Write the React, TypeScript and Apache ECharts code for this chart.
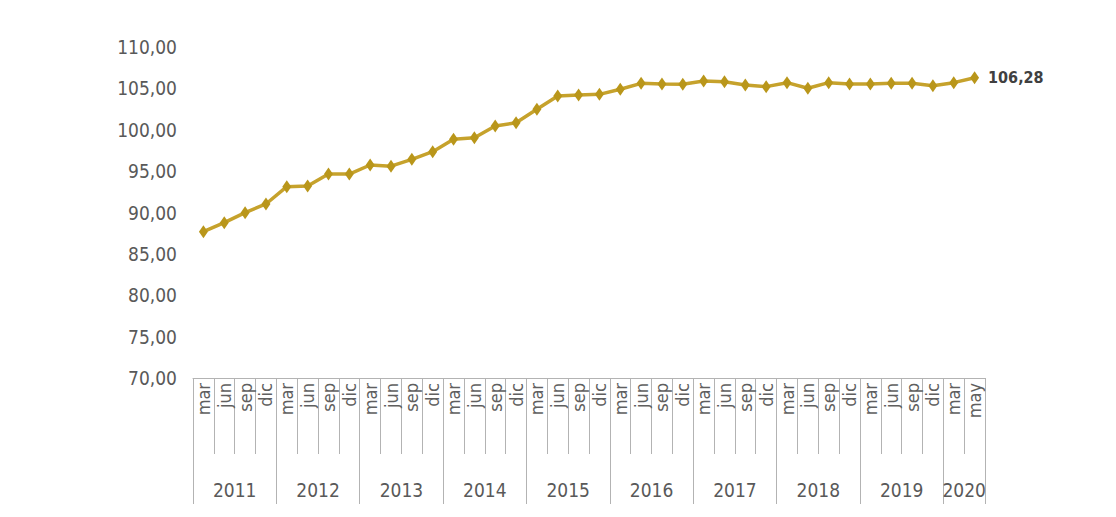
import React, { useEffect, useRef } from "react";
import * as echarts from "echarts";

const monthLabels = [
  "mar", "jun", "sep", "dic", "mar", "jun", "sep", "dic", "mar", "jun", "sep", "dic",
  "mar", "jun", "sep", "dic", "mar", "jun", "sep", "dic", "mar", "jun", "sep", "dic",
  "mar", "jun", "sep", "dic", "mar", "jun", "sep", "dic", "mar", "jun", "sep", "dic",
  "mar", "may",
];
const yearLabels = ["2011", "2012", "2013", "2014", "2015", "2016", "2017", "2018", "2019", "2020"];
const yearSpans = [4, 4, 4, 4, 4, 4, 4, 4, 4, 2];
const values = [
  87.68, 88.77, 89.98, 91.03, 93.12, 93.2, 94.65, 94.65, 95.74, 95.6, 96.43, 97.35,
  98.85, 99.04, 100.45, 100.85, 102.47, 104.08, 104.2, 104.28, 104.89, 105.61, 105.53, 105.49,
  105.89, 105.81, 105.41, 105.21, 105.69, 105.01, 105.69, 105.53, 105.53, 105.61, 105.61, 105.32,
  105.69, 106.28,
];
const yTicks = { min: 70, max: 110, interval: 5 };

const NARROW = "'Liberation Sans Narrow', 'DejaVu Sans Condensed', sans-serif";

export default function App() {
  const ref = useRef<HTMLDivElement>(null);
  useEffect(() => {
    document.body.style.margin = "0";
    if (!ref.current) return;
    const chart = echarts.init(ref.current, undefined, { renderer: "svg" });

    const boundaries: number[] = [0];
    const mids: number[] = [];
    let acc = 0;
    yearSpans.forEach((s) => {
      mids.push(acc + s / 2);
      acc += s;
      boundaries.push(acc);
    });
    const total = acc;

    const lastIdx = values.length - 1;
    const fmt = (v: number) => v.toFixed(2).replace(".", ",");

    chart.setOption({
      animation: false,
      backgroundColor: "#ffffff",
      grid: { left: 193, right: 131, top: 47, bottom: 139, containLabel: false },
      xAxis: [
        {
          type: "category",
          data: monthLabels,
          position: "bottom",
          boundaryGap: true,
          axisLine: { show: true, lineStyle: { color: "#b3b3b3", width: 1 } },
          axisTick: {
            show: true,
            interval: 0,
            alignWithLabel: false,
            length: 76,
            lineStyle: { color: "#b3b3b3", width: 1 },
          },
          axisLabel: {
            interval: 0,
            rotate: 90,
            margin: 5,
            color: "#5f5f5f",
            fontSize: 18,
            fontFamily: NARROW,
          },
          splitLine: { show: false },
        },
        {
          type: "value",
          min: 0,
          max: total,
          position: "bottom",
          axisLine: { show: false },
          axisTick: {
            show: true,
            customValues: boundaries,
            length: 126,
            lineStyle: { color: "#b3b3b3", width: 1 },
          },
          axisLabel: {
            show: true,
            customValues: mids,
            margin: 102,
            color: "#595959",
            fontSize: 19,
            fontFamily: NARROW,
            formatter: (v: number) => {
              const i = mids.indexOf(v);
              return i >= 0 ? yearLabels[i] : "";
            },
          },
          splitLine: { show: false },
        },
      ],
      yAxis: {
        type: "value",
        min: yTicks.min,
        max: yTicks.max,
        interval: yTicks.interval,
        axisLine: { show: false },
        axisTick: { show: false },
        splitLine: { show: false },
        axisLabel: {
          margin: 16,
          color: "#595959",
          fontSize: 19,
          fontFamily: NARROW,
          formatter: (v: number) => fmt(v),
        },
      },
      series: [
        {
          type: "line",
          xAxisIndex: 0,
          data: values.map((v, i) =>
            i === lastIdx
              ? {
                  value: v,
                  label: {
                    show: true,
                    position: "right",
                    distance: 9,
                    formatter: () => fmt(v),
                    color: "#404040",
                    fontSize: 16,
                    fontWeight: "bold",
                    fontFamily: NARROW,
                  },
                }
              : v
          ),
          symbol: "diamond",
          symbolSize: [9, 13],
          showAllSymbol: true,
          lineStyle: { color: "#C6A22C", width: 3.5 },
          itemStyle: { color: "#B9961A" },
        },
      ],
    });
    return () => chart.dispose();
  }, []);
  return <div ref={ref} style={{ width: 1116, height: 517 }} />;
}
